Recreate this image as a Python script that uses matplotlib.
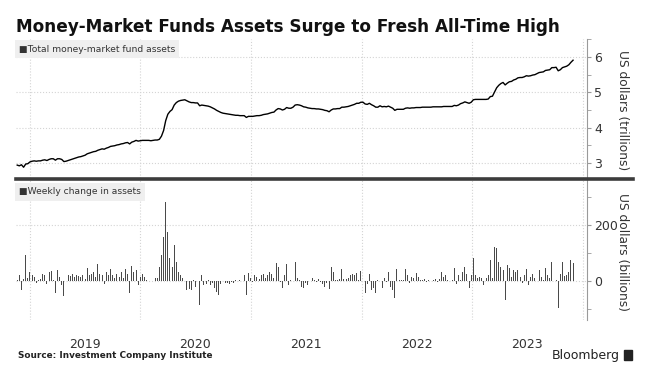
import pandas as pd
import matplotlib
matplotlib.use("Agg")
import matplotlib.pyplot as plt
import matplotlib.dates as mdates
from matplotlib.lines import Line2D
from matplotlib.patches import Rectangle
from matplotlib.ticker import MultipleLocator, NullFormatter

# --- data (weekly, ICI) ---
start_date = "2018-11-21"

# total money-market fund assets, US$ trillions
total_assets = [
    2.94, 2.92, 2.95, 2.88, 2.97, 2.98, 3.03, 3.05, 3.06, 3.05,
    3.06, 3.06, 3.08, 3.09, 3.07, 3.10, 3.12, 3.12, 3.08, 3.12,
    3.12, 3.10, 3.04, 3.05, 3.07, 3.09, 3.11, 3.13, 3.15, 3.17,
    3.18, 3.20, 3.22, 3.26, 3.28, 3.30, 3.32, 3.33, 3.36, 3.38,
    3.40, 3.39, 3.42, 3.44, 3.47, 3.48, 3.49, 3.51, 3.52, 3.54,
    3.55, 3.57, 3.58, 3.54, 3.59, 3.61, 3.64, 3.62, 3.63, 3.64,
    3.64, 3.64, 3.64, 3.63, 3.64, 3.65, 3.65, 3.67, 3.76, 3.92,
    4.20, 4.38, 4.46, 4.51, 4.64, 4.71, 4.75, 4.77, 4.78, 4.79,
    4.76, 4.73, 4.71, 4.71, 4.70, 4.70, 4.62, 4.64, 4.63, 4.62,
    4.61, 4.59, 4.56, 4.53, 4.49, 4.46, 4.43, 4.41, 4.40, 4.39,
    4.38, 4.37, 4.36, 4.35, 4.35, 4.34, 4.34, 4.34, 4.29, 4.32,
    4.32, 4.32, 4.33, 4.34, 4.34, 4.35, 4.37, 4.38, 4.39, 4.41,
    4.43, 4.44, 4.50, 4.54, 4.53, 4.50, 4.52, 4.57, 4.55, 4.55,
    4.58, 4.64, 4.65, 4.64, 4.62, 4.59, 4.58, 4.56, 4.55, 4.54,
    4.54, 4.53, 4.53, 4.52, 4.51, 4.49, 4.48, 4.45, 4.50, 4.53,
    4.53, 4.54, 4.54, 4.58, 4.58, 4.59, 4.60, 4.62, 4.64, 4.66,
    4.69, 4.69, 4.72, 4.72, 4.67, 4.66, 4.69, 4.65, 4.62, 4.58,
    4.58, 4.62, 4.59, 4.60, 4.59, 4.61, 4.58, 4.55, 4.49, 4.52,
    4.52, 4.52, 4.52, 4.55, 4.56, 4.55, 4.56, 4.56, 4.57, 4.57,
    4.57, 4.58, 4.58, 4.58, 4.58, 4.58, 4.59, 4.59, 4.59, 4.59,
    4.59, 4.60, 4.60, 4.60, 4.60, 4.60, 4.63, 4.62, 4.64, 4.68,
    4.70, 4.73, 4.71, 4.69, 4.72, 4.79, 4.80, 4.80, 4.80, 4.80,
    4.80, 4.80, 4.81, 4.88, 4.89, 5.01, 5.13, 5.20, 5.25, 5.28,
    5.21, 5.26, 5.30, 5.31, 5.35, 5.37, 5.41, 5.42, 5.42, 5.44,
    5.47, 5.46, 5.47, 5.49, 5.50, 5.53, 5.56, 5.57, 5.58, 5.62,
    5.63, 5.64, 5.70, 5.70, 5.71, 5.61, 5.64, 5.70, 5.72, 5.74,
    5.78, 5.85, 5.91,
]

# weekly change in assets, US$ billions
weekly_change = [
    5, 21, -32, 8, 93, 10, 33, 21, 15, -8,
    5, 8, 24, 20, -12, 33, 36, 5, -44, 39,
    15, -14, -52, 12, 22, 18, 24, 15, 20, 18,
    14, 20, 8, 45, 21, 27, 33, 15, 60, 27,
    21, -12, 33, 21, 43, 21, 12, 27, 15, 33,
    10, 42, 24, -44, 55, 33, 40, -14, 15, 27,
    15, 4, 2, 0, 7, 10, 10, 51, 93, 158,
    283, 176, 81, 51, 129, 69, 33, 21, 10, 2,
    -32, -30, -32, 3, -20, 0, -86, 21, -14, -10,
    5, -14, -8, -26, -40, -50, -10, -20, -8, -6,
    -10, -5, -8, 3, 2, 4, 0, 21, -50, 30,
    10, -5, 21, 15, 8, 21, 27, 10, 21, 33,
    27, 10, 63, 51, -5, -26, 21, 60, -14, 5,
    24, 67, 10, 5, -20, -26, -8, -14, 5, 10,
    3, -5, 7, -5, -12, -20, -8, -30, 51, 33,
    3, 5, 8, 43, 7, 8, 10, 21, 24, 21,
    30, 5, 36, 0, -44, -10, 27, -32, -26, -44,
    5, 55, -26, 10, -5, 33, -20, -32, -60, 42,
    3, 5, 3, 43, 21, -8, 15, 10, 30, 15,
    5, 3, 8, -3, 5, 0, 3, 8, -2, 8,
    33, 15, 21, 5, 10, 5, 48, -12, 21, 5,
    33, 51, 27, -24, 21, 81, 21, 10, 15, 10,
    -14, 10, 21, 75, 10, 123, 119, 67, 51, 39,
    -68, 57, 45, 15, 39, 33, 39, 15, -8, 21,
    43, -14, 15, 24, 10, 33, 39, 15, 5, 45,
    21, 10, 67, 0, 5, -95, 27, 67, 18, 21,
    33, 75, 63,
]

dates = pd.date_range(start_date, periods=len(total_assets), freq="7D")

W, H = 649, 379
fig = plt.figure(figsize=(W / 100, H / 100), dpi=100)
fig.patch.set_facecolor("white")

left, right = 16, 587
ax1 = fig.add_axes([left / W, 1 - 178 / H, (right - left) / W, (178 - 39) / H])
ax2 = fig.add_axes([left / W, 1 - 320 / H, (right - left) / W, (320 - 180) / H], sharex=ax1)

ax1.plot(dates, total_assets, color="black", lw=1.0)
ax2.bar(dates, weekly_change, width=3.2, color="#4a4a4a", linewidth=0)

ax1.set_ylim(2.575, 6.51)
ax1.yaxis.set_major_locator(MultipleLocator(1))
ax1.yaxis.set_minor_locator(MultipleLocator(0.5))
ax2.set_ylim(-139, 361)
ax2.set_yticks([0, 200])
ax2.yaxis.set_minor_locator(MultipleLocator(100))

ax1.set_xlim(pd.Timestamp("2018-11-17"), pd.Timestamp("2024-01-14"))

for ax in (ax1, ax2):
    for s in ("top", "left", "bottom"):
        ax.spines[s].set_visible(False)
    ax.spines["right"].set_color("#9a9a9a")
    ax.spines["right"].set_linewidth(0.8)
    ax.yaxis.tick_right()
    ax.tick_params(axis="y", which="major", length=3, color="#9a9a9a",
                   labelsize=9, labelcolor="#333333", pad=2)
    ax.tick_params(axis="y", which="minor", length=3, color="#9a9a9a")
    ax.xaxis.set_major_locator(mdates.YearLocator())
    ax.xaxis.set_major_formatter(NullFormatter())
    ax.xaxis.set_minor_locator(mdates.MonthLocator(bymonth=7, bymonthday=1))
    ax.tick_params(axis="x", which="both", length=0)
    ax.grid(which="major", color="#d4d4d4", linestyle=":", lw=0.8)
    ax.set_axisbelow(True)

# year labels only under the lower panel
ax2.xaxis.set_minor_formatter(mdates.DateFormatter("%Y"))
ax1.tick_params(axis="x", which="both", labelbottom=False)
ax2.tick_params(axis="x", which="minor", labelsize=9, labelcolor="#333333", pad=13)

# panel legends
ax1.text(3 / (right - left), 1 - 10 / 139, "\u25a0Total money-market fund assets",
         transform=ax1.transAxes, ha="left", va="center", fontsize=6.6, color="#333333",
         bbox=dict(boxstyle="square,pad=0.45", fc="#efefef", ec="none"))
ax2.text(3 / (right - left), 1 - 12 / 140, "\u25a0Weekly change in assets",
         transform=ax2.transAxes, ha="left", va="center", fontsize=6.6, color="#333333",
         bbox=dict(boxstyle="square,pad=0.45", fc="#efefef", ec="none"))

# divider between panels
fig.add_artist(Line2D([left / W, 633 / W], [1 - 179 / H] * 2, color="#3c3c3c",
                      lw=2.6, transform=fig.transFigure))

fig.text(622 / W, 1 - 110 / H, "US dollars (trillions)", rotation=270,
         ha="center", va="center", fontsize=8.8, color="#333333")
fig.text(622 / W, 1 - 252 / H, "US dollars (billions)", rotation=270,
         ha="center", va="center", fontsize=8.8, color="#333333")

fig.text(16 / W, 1 - 27 / H, "Money-Market Funds Assets Surge to Fresh All-Time High",
         ha="left", va="center", fontsize=12.2, fontweight="bold", color="#111111")
fig.text(18 / W, 1 - 356 / H, "Source: Investment Company Institute",
         ha="left", va="center", fontsize=6.4, fontweight="bold", color="#222222")
fig.text(620 / W, 1 - 355 / H, "Bloomberg", ha="right", va="center",
         fontsize=9, color="#222222")
fig.add_artist(Rectangle((624 / W, 1 - 360 / H), 8 / W, 10 / H, color="#222222",
                         transform=fig.transFigure))

fig.savefig("out.png", dpi=100)
